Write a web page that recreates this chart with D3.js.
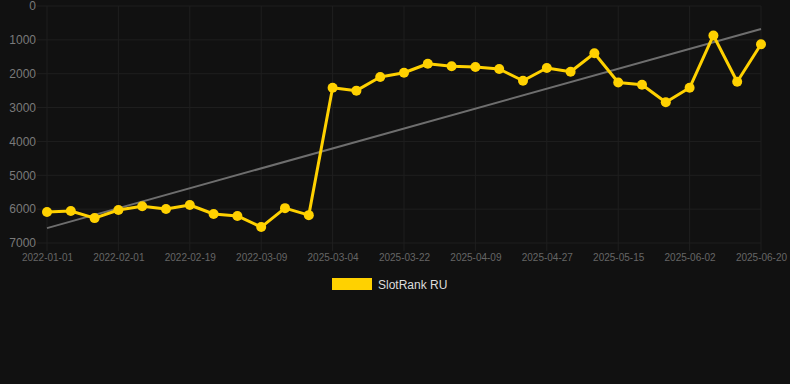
<!DOCTYPE html>
<html>
<head>
<meta charset="utf-8">
<script src="https://cdn.jsdelivr.net/npm/d3@7"></script>
<style>
  html, body { margin: 0; padding: 0; background: #111111; }
  svg { display: block; font-family: "Liberation Sans", Arial, sans-serif; }
</style>
</head>
<body>
<div id="chart"></div>
<script>
// Dates for each point (only every 3rd is shown on the axis)
var dates = [
  "2022-01-01", "2022-01-11", "2022-01-21", "2022-02-01", "2022-02-07", "2022-02-13",
  "2022-02-19", "2022-02-25", "2022-03-03", "2022-03-09", "2022-03-15", "2022-03-21",
  "2025-03-04", "2025-03-10", "2025-03-16", "2025-03-22", "2025-03-28", "2025-04-03",
  "2025-04-09", "2025-04-15", "2025-04-21", "2025-04-27", "2025-05-03", "2025-05-09",
  "2025-05-15", "2025-05-21", "2025-05-27", "2025-06-02", "2025-06-08", "2025-06-14",
  "2025-06-20"
];

var slotRank = [
  6084, 6054, 6265, 6025, 5912, 5995, 5877, 6143, 6202, 6530, 5970, 6177,
  2415, 2500, 2097, 1972, 1705, 1778, 1801, 1860, 2208, 1831, 1942, 1395,
  2260, 2326, 2842, 2415, 870, 2238, 1128
];

// Trend line values at the first and last date
var trend = [6560, 680];

var yTicks = [0, 1000, 2000, 3000, 4000, 5000, 6000, 7000];

var svgWidth = 790;
var svgHeight = 384;

var margin = { top: 6, right: 29, bottom: 141, left: 47 };
var chartWidth = svgWidth - margin.left - margin.right;
var chartHeight = svgHeight - margin.top - margin.bottom;

var svg = d3.select("#chart")
  .append("svg")
  .attr("width", svgWidth)
  .attr("height", svgHeight);

var chartGroup = svg.append("g")
  .attr("transform", `translate(${margin.left}, ${margin.top})`);

var xScale = d3.scalePoint()
  .domain(dates)
  .range([0, chartWidth]);

// Rank axis is reversed: 0 at the top
var yScale = d3.scaleLinear()
  .domain([0, 7000])
  .range([0, chartHeight]);

var shownDates = dates.filter(function(d, i) { return i % 3 === 0; });

// Horizontal grid lines
chartGroup.append("g")
  .selectAll("line")
  .data(yTicks)
  .join("line")
  .attr("x1", -10)
  .attr("x2", chartWidth)
  .attr("y1", d => yScale(d))
  .attr("y2", d => yScale(d))
  .attr("stroke", "#1f1f1f")
  .attr("stroke-width", 1);

// Vertical grid lines at shown ticks
chartGroup.append("g")
  .selectAll("line")
  .data(shownDates)
  .join("line")
  .attr("x1", d => xScale(d))
  .attr("x2", d => xScale(d))
  .attr("y1", 0)
  .attr("y2", chartHeight + 8)
  .attr("stroke", "#1f1f1f")
  .attr("stroke-width", 1);

// Y axis labels
var leftAxis = d3.axisLeft(yScale)
  .tickValues(yTicks)
  .tickFormat(d3.format("d"))
  .tickSize(0)
  .tickPadding(11);
chartGroup.append("g")
  .call(leftAxis)
  .call(g => g.select(".domain").remove())
  .selectAll("text")
  .attr("fill", "#7a7a7a")
  .style("font-size", "12px");

// X axis labels
var bottomAxis = d3.axisBottom(xScale).tickValues(shownDates).tickSize(0).tickPadding(11);
chartGroup.append("g")
  .attr("transform", `translate(0, ${chartHeight})`)
  .call(bottomAxis)
  .call(g => g.select(".domain").remove())
  .selectAll("text")
  .attr("fill", "#666666")
  .style("font-size", "10px");

// Trend line
chartGroup.append("line")
  .attr("x1", xScale(dates[0]))
  .attr("y1", yScale(trend[0]))
  .attr("x2", xScale(dates[dates.length - 1]))
  .attr("y2", yScale(trend[1]))
  .attr("stroke", "#6e6e6e")
  .attr("stroke-width", 2);

// Series line
var line = d3.line()
  .x((d, i) => xScale(dates[i]))
  .y(d => yScale(d));

chartGroup.append("path")
  .datum(slotRank)
  .attr("d", line)
  .attr("fill", "none")
  .attr("stroke", "#ffd100")
  .attr("stroke-width", 3)
  .attr("stroke-linejoin", "round");

chartGroup.append("g")
  .selectAll("circle")
  .data(slotRank)
  .join("circle")
  .attr("cx", (d, i) => xScale(dates[i]))
  .attr("cy", d => yScale(d))
  .attr("r", 5)
  .attr("fill", "#ffd100");

// Legend
var legend = svg.append("g")
  .attr("transform", "translate(332, 278)");

legend.append("rect")
  .attr("width", 40)
  .attr("height", 12)
  .attr("fill", "#ffd100");

legend.append("text")
  .attr("x", 46)
  .attr("y", 10.5)
  .attr("fill", "#dddddd")
  .style("font-size", "12px")
  .text("SlotRank RU");
</script>
</body>
</html>
